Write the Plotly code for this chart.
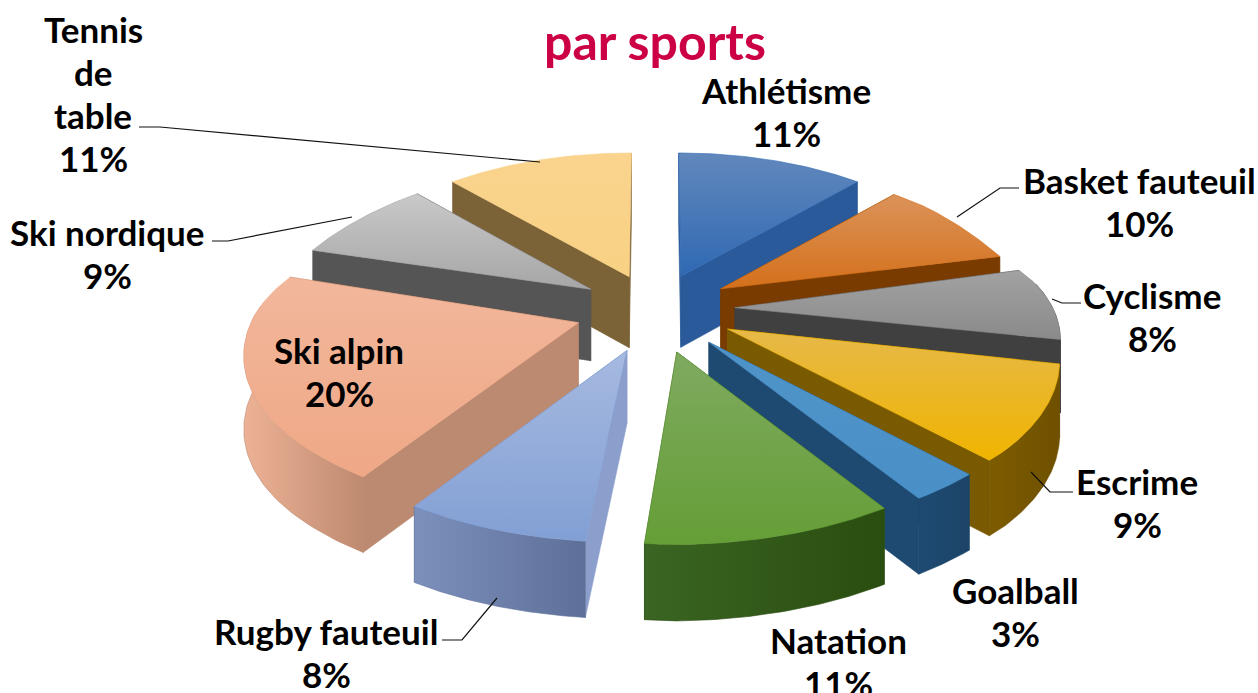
import numpy as np
import plotly.graph_objects as go

categories = ["Athlétisme", "Basket fauteuil", "Cyclisme", "Escrime", "Goalball",
              "Natation", "Rugby fauteuil", "Ski alpin", "Ski nordique", "Tennis de table"]
values = [11, 10, 8, 9, 3, 11, 8, 20, 9, 11]
title_text = "par sports"

top_colors = [("#6288BC", "#2F69B3"), ("#DB935A", "#D4701A"), ("#A2A2A2", "#8A8A8A"),
              ("#E6B94A", "#F0B400"), ("#4F94C8", "#4A90C8"), ("#7FAA60", "#659E36"),
              ("#A6BAE0", "#829FD4"), ("#F2B79C", "#EFA886"), ("#C9C9C9", "#A6A6A6"),
              ("#FAD48E", "#F8D184")]
wall_colors = ["#2A5A9A", "#7A3B00", "#404040", "#7A5A00", "#1E4A72",
               "#32581C", "#8C9FCC", "#BC8A70", "#555555", "#7C6337"]
outer_colors = [("#2A5A9A", "#2A5A9A"), ("#7A3B00", "#7A3B00"), ("#404040", "#404040"),
                ("#7D5C00", "#6E5000"), ("#1E4A72", "#1C4468"), ("#3A6522", "#2A4D10"),
                ("#7C90BC", "#5E7099"), ("#EDB296", "#BE8A70"), ("#555555", "#555555"),
                ("#7C6337", "#7C6337")]
label_lines = [["Athlétisme", "11%"], ["Basket fauteuil", "10%"], ["Cyclisme", "8%"],
               ["Escrime", "9%"], ["Goalball", "3%"], ["Natation", "11%"],
               ["Rugby fauteuil", "8%"], ["Ski alpin", "20%"], ["Ski nordique", "9%"],
               ["Tennis", "de", "table", "11%"]]
label_xy = [(786, 90), (1139, 180), (1152, 295), (1137, 481), (1015, 590), (838, 640),
            (326, 631), (339, 350), (107, 232), (93, 29)]
leaders = [[(1019, 188), (1000, 188), (957, 217)], [(1081, 303), (1062, 303), (1052, 299)],
           [(1073, 492), (1050, 492), (1031, 472)], [(442, 640), (462, 640), (497, 598)],
           [(212, 241), (228, 241), (352, 217)], [(139, 127), (160, 127), (540, 162)]]

CX, CY, R, EXPL, DEPTH = 655, 310, 333, 0.25, 70
LINE_STEP = 43


def project(X, Y, Z=0.0):
    X, Y = np.asarray(X, float), np.asarray(Y, float)
    shift = (9.5 + 6 * np.tanh(6 * (X + 0.15))) * np.maximum(0, -Y)
    sx = (CX + R * X * (0.96 - 0.13 * np.tanh(1.5 * Y)) + shift
          - 25 * np.maximum(0, X - 0.95) - 8 * np.maximum(0, -X - 0.95))
    shear = 12 * np.maximum(0, X) * (0.5 - 0.5 * np.tanh(4 * (Y - 0.15)))
    sy = (CY - Y * (158 - 31 * np.tanh(2.5 * Y)) + Z * DEPTH * (1.03 - 0.07 * np.tanh(Y))
          - shear)
    return sx, sy


def poly(xs, ys, colors, kind, line):
    return go.Scatter(
        x=list(xs) + [xs[0]], y=list(ys) + [ys[0]], mode="lines", fill="toself",
        fillgradient=dict(type=kind, colorscale=[[0, colors[0]], [1, colors[1]]]),
        line=dict(color=line, width=0.6), hoverinfo="skip", showlegend=False)


fig = go.Figure()
edges = np.radians(np.concatenate([[0], np.cumsum(values)]) * 3.6)
mids = (edges[:-1] + edges[1:]) / 2
order = np.argsort(-np.cos(mids))

for i in order:
    a0, a1, m = edges[i], edges[i + 1], mids[i]
    ox, oy = EXPL * np.sin(m), EXPL * np.cos(m)
    t = np.linspace(a0, a1, 60)
    X, Y = ox + np.sin(t), oy + np.cos(t)
    ax, ay = project(ox, oy)
    ax2, ay2 = project(ox, oy, 1)

    walls = []
    for a in (a0, a1):
        ex, ey = ox + np.sin(a), oy + np.cos(a)
        walls.append(((oy + ey) / 2, ex, ey))
    walls.sort(key=lambda w: -w[0])
    for _, ex, ey in walls:
        x1, y1 = project(ex, ey)
        x2, y2 = project(ex, ey, 1)
        fig.add_trace(poly([float(ax), float(x1), float(x2), float(ax2)],
                           [float(ay), float(y1), float(y2), float(ay2)],
                           (wall_colors[i], wall_colors[i]), "horizontal", wall_colors[i]))

    front = np.cos(t) < 0.12
    if front.sum() > 1:
        xt, yt = project(X[front], Y[front])
        xb, yb = project(X[front], Y[front], 1)
        fig.add_trace(poly(np.r_[xt, xb[::-1]], np.r_[yt, yb[::-1]],
                           outer_colors[i], "horizontal", outer_colors[i][1]))

    xt, yt = project(X, Y)
    fig.add_trace(poly(np.r_[float(ax), xt], np.r_[float(ay), yt],
                       (top_colors[i][1], top_colors[i][0]), "vertical", top_colors[i][1]))

shapes = [dict(type="path", xref="x", yref="y", line=dict(color="#111111", width=1.2),
               path="M" + " L".join(f"{x},{y}" for x, y in pts)) for pts in leaders]

annotations = []
for lines, (x, y) in zip(label_lines, label_xy):
    for n, line in enumerate(lines):
        annotations.append(dict(x=x, y=y + n * LINE_STEP, xref="x", yref="y", text=line,
                                showarrow=False, xanchor="center", yanchor="middle",
                                font=dict(family="Lato", size=35, color="#000000", weight="bold")))
annotations.append(dict(x=655, y=41, xref="x", yref="y", text=title_text, showarrow=False,
                        font=dict(family="Lato", size=50, color="#CC0044", weight="bold"),
                        xanchor="center", yanchor="middle"))

fig.update_layout(
    width=1258, height=693, margin=dict(l=0, r=0, t=0, b=0),
    paper_bgcolor="white", plot_bgcolor="white", shapes=shapes, annotations=annotations,
    xaxis=dict(range=[0, 1258], visible=False, fixedrange=True),
    yaxis=dict(range=[693, 0], visible=False, fixedrange=True),
)
fig.write_html("out.html", config={"displayModeBar": False},
               post_script="document.body.style.margin='0';")
